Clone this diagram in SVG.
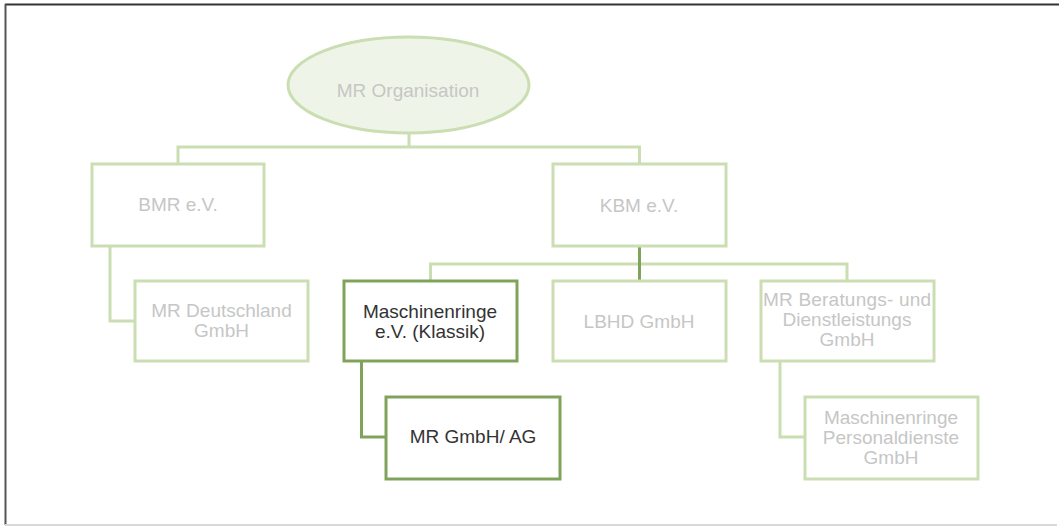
<svg xmlns="http://www.w3.org/2000/svg" width="1059" height="526" viewBox="0 0 1059 526">
<style>
.bx{fill:#ffffff;stroke:#cadeb2;stroke-width:3}
.bxd{fill:#ffffff;stroke:#80a35c;stroke-width:3}
.ln{fill:none;stroke:#cadeb2;stroke-width:3}
.lnd{fill:none;stroke:#80a35c;stroke-width:3}
.t{font-family:"Liberation Sans",Arial,sans-serif;font-size:19px;fill:#c6c6c6;text-anchor:middle}
.td{font-family:"Liberation Sans",Arial,sans-serif;font-size:19px;fill:#333333;text-anchor:middle}
</style>
<rect x="0" y="0" width="1059" height="526" fill="#ffffff"/>
<line x1="5" y1="4.5" x2="1059" y2="4.5" stroke="#333333" stroke-width="2"/>
<line x1="5.5" y1="4" x2="5.5" y2="525" stroke="#555555" stroke-width="2"/>
<line x1="5" y1="525" x2="1057" y2="525" stroke="#d8d8d8" stroke-width="2"/>
<g id="connectors">
<path class="ln" d="M409 133 V147 M178 164 V147 H639.5 V164"/>
<path class="ln" d="M110 246 V321 H135"/>
<path class="ln" d="M430.5 281 V264 H847 V281 M639.5 264 V281"/>
<path class="lnd" d="M639.5 246 V281"/>
<path class="lnd" d="M361.5 361 V437 H386"/>
<path class="ln" d="M780 361 V437 H805"/>
</g>
<g id="n-mr-organisation">
<ellipse cx="408.5" cy="85" rx="120.5" ry="48" fill="#eef5e8" stroke="#cadeb2" stroke-width="3"/>
<text class="t" x="408" y="97">MR Organisation</text>
</g>
<g id="n-bmr">
<rect class="bx" x="92" y="164" width="172" height="82"/>
<text class="t" x="178" y="211">BMR e.V.</text>
</g>
<g id="n-kbm">
<rect class="bx" x="553" y="164" width="173" height="82"/>
<text class="t" x="639" y="212">KBM e.V.</text>
</g>
<g id="n-mr-deutschland">
<rect class="bx" x="135" y="281" width="173" height="80"/>
<text class="t" x="221.5" y="317">MR Deutschland</text>
<text class="t" x="221.5" y="337">GmbH</text>
</g>
<g id="n-maschinenringe-ev">
<rect class="bxd" x="344" y="281" width="173" height="80"/>
<text class="td" x="430" y="318">Maschinenringe</text>
<text class="td" x="430" y="338">e.V. (Klassik)</text>
</g>
<g id="n-lbhd">
<rect class="bx" x="553" y="281" width="173" height="80"/>
<text class="t" x="639" y="328">LBHD GmbH</text>
</g>
<g id="n-mr-beratungs">
<rect class="bx" x="761" y="281" width="173" height="80"/>
<text class="t" x="847" y="306" textLength="168" lengthAdjust="spacing">MR Beratungs-  und</text>
<text class="t" x="847" y="326">Dienstleistungs</text>
<text class="t" x="847" y="346">GmbH</text>
</g>
<g id="n-mr-gmbh-ag">
<rect class="bxd" x="386" y="397" width="174" height="82"/>
<text class="td" x="473" y="443">MR GmbH/ AG</text>
</g>
<g id="n-personaldienste">
<rect class="bx" x="805" y="397" width="173" height="82"/>
<text class="t" x="891" y="424">Maschinenringe</text>
<text class="t" x="891" y="444">Personaldienste</text>
<text class="t" x="891" y="464">GmbH</text>
</g>
</svg>
